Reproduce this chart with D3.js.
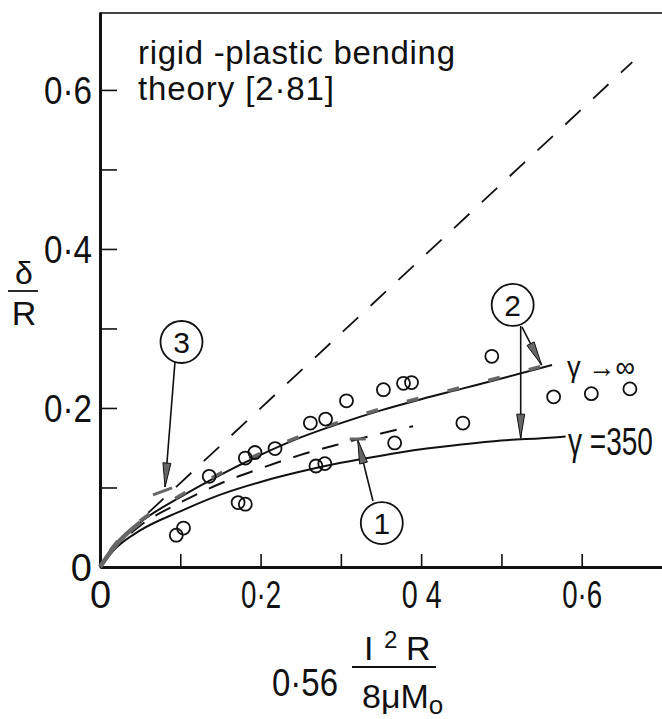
<!DOCTYPE html>
<html>
<head>
<meta charset="utf-8">
<script src="https://cdn.jsdelivr.net/npm/d3@7"></script>
<style>
  html, body { margin: 0; padding: 0; background: #fff; }
  svg { display: block; }
  text { font-family: "Liberation Sans", Arimo, Arial, sans-serif; fill: #111; }
</style>
</head>
<body>
<svg id="chart" width="662" height="719"></svg>
<script>
// ---- axis ticks ----
const xTicks = [0, 0.1, 0.2, 0.3, 0.4, 0.5, 0.6];
const xTickLabels = ["0", "", "0·2", "", "0 4", "", "0·6"];
const yTicks = [0, 0.1, 0.2, 0.3, 0.4, 0.5, 0.6];
const yTickLabels = ["0", "", "0·2", "", "0·4", "", "0·6"];

// ---- rigid-plastic bending theory (dashed straight line) ----
const theoryX = [0.06, 0.663];
const theoryY = [0.068, 0.635];

// ---- curve for gamma -> infinity ----
const infX = [0, 0.02, 0.05, 0.1, 0.15, 0.2, 0.25, 0.3, 0.35, 0.4, 0.45, 0.5, 0.563];
const infY = [0, 0.028, 0.056, 0.088, 0.116, 0.141, 0.163, 0.181, 0.197, 0.211, 0.224, 0.237, 0.254];

// ---- curve for gamma = 350 ----
const g350X = [0, 0.02, 0.05, 0.1, 0.15, 0.2, 0.25, 0.3, 0.35, 0.4, 0.45, 0.5, 0.55, 0.58];
const g350Y = [0, 0.024, 0.046, 0.07, 0.091, 0.107, 0.12, 0.131, 0.14, 0.148, 0.154, 0.159, 0.162, 0.164];

// ---- intermediate dashed curve ----
const midX = [0.02, 0.05, 0.1, 0.15, 0.2, 0.25, 0.3, 0.35, 0.39];
const midY = [0.026, 0.052, 0.081, 0.105, 0.124, 0.141, 0.155, 0.168, 0.177];

// ---- experimental points ----
const expX = [0.095, 0.104, 0.172, 0.181, 0.136, 0.181, 0.193, 0.218, 0.262, 0.281, 0.307,
              0.269, 0.28, 0.353, 0.378, 0.388, 0.367, 0.452, 0.488, 0.565, 0.612, 0.66];
const expY = [0.04, 0.049, 0.081, 0.079, 0.114, 0.137, 0.144, 0.149, 0.181, 0.186, 0.209,
              0.127, 0.13, 0.223, 0.231, 0.232, 0.156, 0.181, 0.265, 0.214, 0.218, 0.224];

// ---- numbered callouts: label and centre (data units) ----
const calloutLabels = ["1", "2", "3"];
const calloutX = [0.351, 0.514, 0.1015];
const calloutY = [0.0553, 0.3296, 0.283];

// ---- callout arrows: start and tip (data units) ----
const arrowFromX = [0.34, 0.524, 0.5255, 0.0934];
const arrowFromY = [0.083, 0.303, 0.302, 0.258];
const arrowToX = [0.321, 0.524, 0.55, 0.081];
const arrowToY = [0.16, 0.162, 0.254, 0.1006];

// ---- short end bars at the arrow tips ----
const barX1 = [0.311, 0.066];
const barY1 = [0.161, 0.0906];
const barX2 = [0.331, 0.0897];
const barY2 = [0.161, 0.0994];

const svg = d3.select("#chart");
const x = d3.scaleLinear().domain([0, 0.7]).range([100, 662]);
const y = d3.scaleLinear().domain([0, 0.698]).range([567, 12]);

const ink = "#111";
const grey = "#666";

// squeeze a text element horizontally to a given drawn width (narrow lettering),
// keeping its anchor point fixed
function fit(sel, w) {
  const natural = sel.node().getComputedTextLength();
  if (!natural) return sel;
  const s = w / natural;
  const x0 = +sel.attr("x") || 0;
  return sel.attr("transform", `matrix(${s},0,0,1,${x0 * (1 - s)},0)`);
}

// frame: top border
svg.append("line")
  .attr("x1", x(0)).attr("x2", x(0.7))
  .attr("y1", y(0.698) + 1).attr("y2", y(0.698) + 1)
  .attr("stroke", "#444").attr("stroke-width", 2);

// axes
const yAxis = d3.axisLeft(y)
  .tickValues(yTicks)
  .tickFormat((d, i) => yTickLabels[i])
  .tickSizeInner(-17).tickSizeOuter(0).tickPadding(8);
const xAxis = d3.axisBottom(x)
  .tickValues(xTicks)
  .tickFormat((d, i) => xTickLabels[i])
  .tickSizeInner(-13).tickSizeOuter(0).tickPadding(14);

const gy = svg.append("g").attr("transform", `translate(${x(0)},0)`).call(yAxis);
const gx = svg.append("g").attr("transform", `translate(0,${y(0)})`).call(xAxis);
[gx, gy].forEach(g => {
  g.select(".domain").attr("stroke", ink).attr("stroke-width", 3);
  g.selectAll(".tick line").attr("stroke", ink).attr("stroke-width", 1.6);
  g.selectAll(".tick text").attr("font-size", 38).attr("fill", ink);
});
gy.selectAll(".tick text").attr("dy", "0.36em")
  .each(function (d, i) { if (yTickLabels[i].length > 1) fit(d3.select(this), 48); });
gx.selectAll(".tick text")
  .each(function (d, i) { if (xTickLabels[i].length > 1) fit(d3.select(this), 40); });

const line = d3.line().x(d => x(d[0])).y(d => y(d[1])).curve(d3.curveMonotoneX);
const zip = (a, b) => a.map((v, i) => [v, b[i]]);

// theory line
svg.append("path")
  .attr("d", d3.line().x(d => x(d[0])).y(d => y(d[1]))(zip(theoryX, theoryY)))
  .attr("fill", "none").attr("stroke", ink).attr("stroke-width", 1.8)
  .attr("stroke-dasharray", "21 17");

// intermediate dashed curve
svg.append("path")
  .attr("d", line(zip(midX, midY)))
  .attr("fill", "none").attr("stroke", ink).attr("stroke-width", 2)
  .attr("stroke-dasharray", "17 13").attr("stroke-dashoffset", -20);

// gamma = 350
svg.append("path")
  .attr("d", line(zip(g350X, g350Y)))
  .attr("fill", "none").attr("stroke", ink).attr("stroke-width", 2);

// gamma -> infinity, with its heavier grey dashed overlay
svg.append("path")
  .attr("d", line(zip(infX, infY)))
  .attr("fill", "none").attr("stroke", ink).attr("stroke-width", 2);
svg.append("path")
  .attr("d", line(zip(infX, infY)))
  .attr("transform", "translate(0,-1.5)")
  .attr("fill", "none").attr("stroke", grey).attr("stroke-width", 3.5)
  .attr("stroke-dasharray", "12 30").attr("stroke-dashoffset", -60);

// shaded start near the origin
svg.append("path")
  .attr("d", line(zip(infX.slice(0, 4), infY.slice(0, 4)).filter(d => d[0] <= 0.07)))
  .attr("fill", "none").attr("stroke", grey).attr("stroke-width", 4.5);

// experimental points
svg.append("g").selectAll("circle")
  .data(zip(expX, expY))
  .join("circle")
  .attr("cx", d => x(d[0])).attr("cy", d => y(d[1])).attr("r", 6.5)
  .attr("fill", "none").attr("stroke", ink).attr("stroke-width", 1.8);

// callout arrows
const arrows = arrowFromX.map((v, i) => ({ x1: x(v), y1: y(arrowFromY[i]), x2: x(arrowToX[i]), y2: y(arrowToY[i]) }));
const ga = svg.append("g");
ga.selectAll("line").data(arrows).join("line")
  .attr("x1", d => d.x1).attr("y1", d => d.y1).attr("x2", d => d.x2).attr("y2", d => d.y2)
  .attr("stroke", ink).attr("stroke-width", 1.6);
ga.selectAll("path").data(arrows).join("path")
  .attr("d", d => {
    const dx = d.x2 - d.x1, dy = d.y2 - d.y1, L = Math.hypot(dx, dy);
    const ux = dx / L, uy = dy / L, len = 24, hw = 4;
    const bx = d.x2 - ux * len, by = d.y2 - uy * len;
    return `M${d.x2},${d.y2}L${bx - uy * hw},${by + ux * hw}L${bx + uy * hw},${by - ux * hw}Z`;
  })
  .attr("fill", grey).attr("stroke", ink).attr("stroke-width", 1);

// end bars
svg.append("g").selectAll("line").data(barX1).join("line")
  .attr("x1", (d, i) => x(d)).attr("y1", (d, i) => y(barY1[i]))
  .attr("x2", (d, i) => x(barX2[i])).attr("y2", (d, i) => y(barY2[i]))
  .attr("stroke", grey).attr("stroke-width", 3);

// numbered callouts
const gc = svg.append("g").selectAll("g").data(calloutLabels).join("g")
  .attr("transform", (d, i) => `translate(${x(calloutX[i])},${y(calloutY[i])})`);
gc.append("circle").attr("r", 21).attr("fill", "#fff").attr("stroke", ink).attr("stroke-width", 1.8);
gc.append("text").attr("text-anchor", "middle").attr("dy", "0.36em")
  .attr("font-size", 30).text(d => d);

// curve labels
fit(svg.append("text").attr("x", 567).attr("y", 377).attr("font-size", 30).text("γ →∞"), 68);
fit(svg.append("text").attr("x", 568).attr("y", 455).attr("font-size", 38).text("γ =350"), 85);

// theory caption
svg.append("text").attr("x", 138).attr("y", 64).attr("font-size", 33)
  .attr("textLength", 317).attr("lengthAdjust", "spacing").text("rigid -plastic bending");
svg.append("text").attr("x", 138).attr("y", 100).attr("font-size", 33)
  .attr("textLength", 196).attr("lengthAdjust", "spacing").text("theory [2·81]");

// y axis title: delta over R
svg.append("text").attr("x", 24).attr("y", 284).attr("text-anchor", "middle").attr("font-size", 32).text("δ");
svg.append("line").attr("x1", 8).attr("x2", 38).attr("y1", 291).attr("y2", 291).attr("stroke", ink).attr("stroke-width", 1.8);
svg.append("text").attr("x", 24).attr("y", 325).attr("text-anchor", "middle").attr("font-size", 34).text("R");

// x axis title: 0.56 I^2 R / (8 mu M0)
fit(svg.append("text").attr("x", 272).attr("y", 696).attr("font-size", 38).text("0·56"), 66);
const num = svg.append("text").attr("y", 660).attr("font-size", 34);
num.append("tspan").attr("x", 364).text("I");
num.append("tspan").attr("x", 384).attr("font-size", 24).attr("dy", -12).text("2");
num.append("tspan").attr("x", 406).attr("dy", 12).text("R");
svg.append("line").attr("x1", 352).attr("x2", 436).attr("y1", 667).attr("y2", 667).attr("stroke", ink).attr("stroke-width", 1.8);
const den = svg.append("text").attr("x", 362).attr("y", 708).attr("font-size", 34);
den.append("tspan").text("8μM");
den.append("tspan").attr("font-size", 26).attr("dy", 6).text("o");
</script>
</body>
</html>
